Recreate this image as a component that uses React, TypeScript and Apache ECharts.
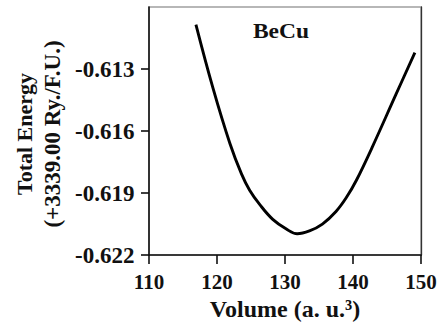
import React, { useEffect, useRef } from "react";
import * as echarts from "echarts";

const volumes = [116.9, 119.4, 121.9, 123.6, 124.8, 126.3, 128.2, 130.2, 131.8, 133.6, 135.5, 137.5, 139.0, 140.5, 142.8, 146.3, 149.1];
const energies = [-0.61085, -0.61391, -0.6166, -0.61807, -0.61886, -0.61956, -0.62027, -0.62074, -0.62097, -0.62083, -0.6205, -0.61989, -0.61923, -0.61838, -0.6168, -0.61424, -0.61221];
const yTicks = [-0.622, -0.619, -0.616, -0.613];
const xTicks = [110, 120, 130, 140, 150];
const seriesLabel = "BeCu";
const xName = "Volume (a. u.³)";
const yName1 = "Total Energy";
const yName2 = "(+3339.00 Ry./F.U.)";

const FONT = "Liberation Serif";

export default function App() {
  const ref = useRef<HTMLDivElement>(null);
  useEffect(() => {
    if (!ref.current) return;
    const chart = echarts.init(ref.current, null, { renderer: "svg" });
    const data = volumes.map((v, i) => [v, energies[i]]);
    chart.setOption({
      animation: false,
      backgroundColor: "#fff",
      grid: {
        left: 149,
        right: 19,
        top: 7,
        bottom: 64,
        show: true,
        borderColor: "#a0a0a0",
        borderWidth: 1.5,
        containLabel: false,
      },
      xAxis: {
        type: "value",
        min: 110,
        max: 150,
        interval: 10,
        name: xName,
        nameLocation: "middle",
        nameGap: 35,
        nameTextStyle: { fontFamily: FONT, fontWeight: "bold", fontSize: 24, color: "#111" },
        axisLine: { show: true, onZero: false, lineStyle: { color: "#111", width: 1.6 } },
        axisTick: { show: true, length: 9, lineStyle: { color: "#111", width: 1.6 }, customValues: xTicks },
        axisLabel: { fontFamily: FONT, fontWeight: "bold", fontSize: 21, color: "#111", margin: 16, customValues: xTicks },
        splitLine: { show: false },
      },
      yAxis: [
        {
          type: "value",
          min: -0.622,
          max: -0.61,
          axisLine: { show: true, onZero: false, lineStyle: { color: "#111", width: 1.6 } },
          axisTick: { show: true, length: 8, lineStyle: { color: "#111", width: 1.6 }, customValues: yTicks },
          axisLabel: {
            fontFamily: FONT,
            fontWeight: "bold",
            fontSize: 23,
            color: "#111",
            margin: 14.5,
            padding: [4, 0, 0, 0],
            customValues: yTicks,
            formatter: (v: number) => v.toFixed(3),
          },
          splitLine: { show: false },
        },
        {
          type: "value",
          position: "right",
          min: -0.622,
          max: -0.61,
          axisLine: { show: true, onZero: false, lineStyle: { color: "#333", width: 1.3 } },
          axisTick: { show: false },
          axisLabel: { show: false },
          splitLine: { show: false },
        },
      ],
      series: [
        {
          type: "line",
          data,
          smooth: 0.4,
          showSymbol: false,
          lineStyle: { color: "#000", width: 2.9 },
        },
      ],
      graphic: [
        {
          type: "text",
          x: 281,
          y: 31,
          scaleX: 1.12,
          style: {
            text: seriesLabel,
            fontFamily: FONT,
            fontWeight: "bold",
            fontSize: 21,
            fill: "#111",
            align: "center",
            verticalAlign: "middle",
          },
        },
        {
          type: "text",
          x: 24,
          y: 134,
          rotation: Math.PI / 2,
          style: {
            text: yName1,
            fontFamily: FONT,
            fontWeight: "bold",
            fontSize: 22,
            fill: "#111",
            align: "center",
            verticalAlign: "middle",
          },
        },
        {
          type: "text",
          x: 52,
          y: 134,
          rotation: Math.PI / 2,
          style: {
            text: yName2,
            fontFamily: FONT,
            fontWeight: "bold",
            fontSize: 23,
            fill: "#111",
            align: "center",
            verticalAlign: "middle",
          },
        },
      ],
    });
    return () => chart.dispose();
  }, []);
  return (
    <div
      ref={ref}
      style={{ position: "fixed", left: 0, top: 0, width: 440, height: 326, background: "#fff" }}
    />
  );
}
